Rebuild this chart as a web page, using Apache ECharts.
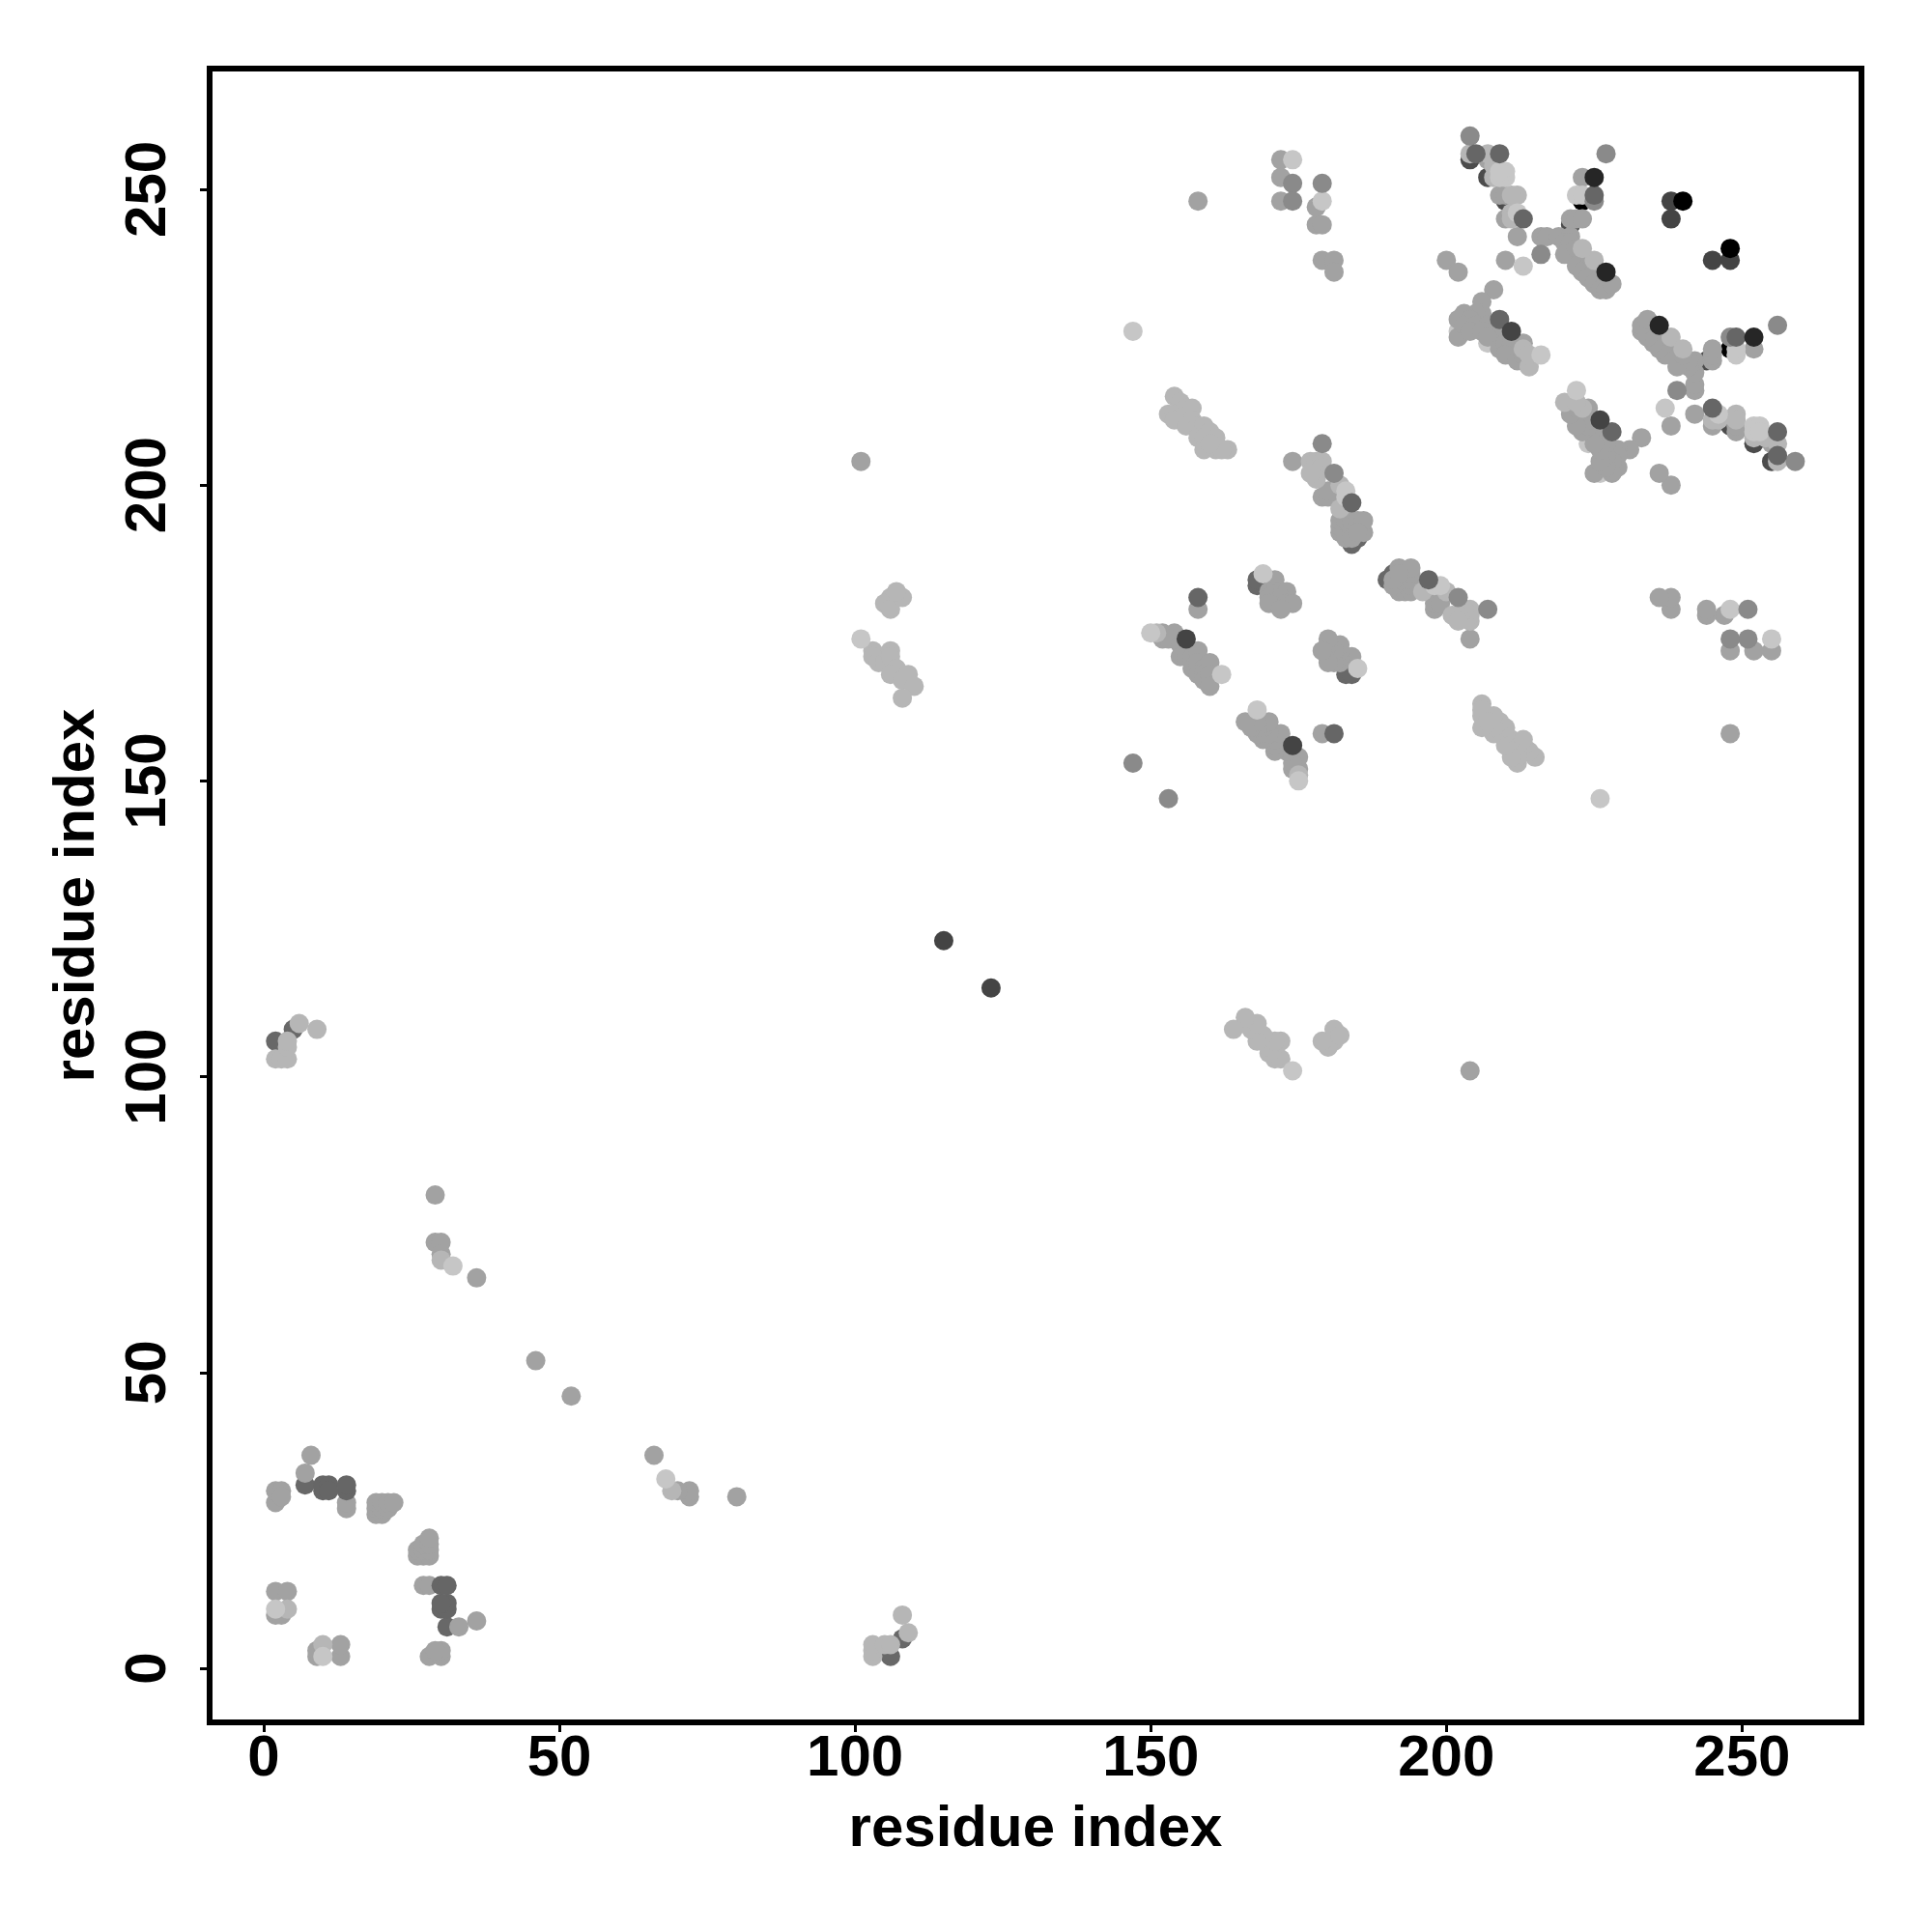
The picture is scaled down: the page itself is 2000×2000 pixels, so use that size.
<!DOCTYPE html>
<html>
<head>
<meta charset="utf-8">
<style>html,body{margin:0;padding:0;background:#fff}#c{width:2000px;height:2000px}</style>
<script src="https://cdn.jsdelivr.net/npm/echarts@6/dist/echarts.min.js"></script>
</head>
<body>
<div id="c"></div>
<script>
const tickValues = [0, 50, 100, 150, 200, 250];
const axisTitle = "residue index";

const blackLow = [[223,248],[248,223]];
const darkLow = [[204,255],[255,204],[207,252],[252,207],[210,248],[248,210],[221,244],[244,221]];
const slateLow = [[184,190],[190,184],[185,191],[191,185],[183,192],[192,183],[183,168],[168,183],[184,168],[168,184],[171,180],[180,171],[7,31],[31,7],[2,106],[106,2],[5,108],[108,5]];
const paleLow = [[202,226],[226,202],[207,224],[224,207]];
const midGrey = [
  [2,13],[13,2],[4,13],[13,4],[2,9],[9,2],[3,9],[9,3],[2,28],[28,2],[2,30],[30,2],[3,30],[30,3],[3,29],[29,3],
  [8,36],[36,8],[7,33],[33,7],[14,27],[27,14],[14,28],[28,14],
  [19,26],[26,19],[19,27],[27,19],[19,28],[28,19],[20,26],[26,20],[20,27],[27,20],[20,28],[28,20],[21,27],[27,21],[21,28],[28,21],[22,28],[28,22],
  [29,80],[80,29],[29,72],[72,29],[30,72],[72,30],[30,70],[70,30],[36,66],[66,36],[46,52],[52,46],
  [101,204],[204,101],[158,248],[248,158],[172,255],[255,172],[172,252],[252,172],[172,248],[248,172],[178,247],[247,178],[178,244],[244,178],[179,244],[244,179],
  [179,238],[238,179],[181,238],[238,181],[181,236],[236,181],[174,204],[204,174],[158,179],[179,158],
  [152,174],[174,152],[152,175],[175,152],[154,175],[175,154],[153,174],[174,153],[155,173],[173,155],[155,171],[171,155],[156,171],[171,156],[157,171],[171,157],[158,172],[172,158],[157,169],[169,157],[158,170],[170,158],[159,169],[169,159],[160,170],[170,160],[158,168],[168,158],[159,168],[168,159],[159,167],[167,159],[160,168],[168,160],[160,166],[166,160],
  [171,184],[184,171],[170,182],[182,170],[171,182],[182,171],[172,182],[182,172],[173,182],[182,173],[170,181],[181,170],[172,181],[181,172],[170,180],[180,170],[173,180],[180,173],[174,180],[180,174],[172,179],[179,172],
  [179,198],[198,179],[180,198],[198,180],[180,199],[199,180],
  [182,192],[192,182],[182,193],[193,182],[182,194],[194,182],[183,191],[191,183],[183,194],[194,183],[184,192],[192,184],[184,194],[194,184],[185,193],[193,185],[185,194],[194,185],[186,192],[192,186],[186,194],[194,186],[184,191],[191,184],[185,192],[192,185],
  [200,238],[238,200],[202,236],[236,202],[210,238],[238,210],
  [208,233],[233,208],[206,231],[231,206],[206,229],[229,206],[205,229],[229,205],[203,229],[229,203],[202,228],[228,202],[204,228],[228,204],[202,225],[225,202],[203,227],[227,203],[205,227],[227,205],[207,227],[227,207],[204,226],[226,204],[206,226],[226,206],[208,226],[226,208],[207,225],[225,207],[209,223],[223,209],[210,224],[224,210],[211,224],[224,211],[210,222],[222,210],[212,221],[221,212],[213,222],[222,213],[213,224],[224,213],
  [209,249],[249,209],[210,249],[249,210],[210,245],[245,210],[212,242],[242,212],[216,242],[242,216],[217,242],[242,217],[219,242],[242,219],[221,242],[242,221],[220,241],[241,220],[221,241],[241,221],[220,239],[239,220],[222,240],[240,222],[223,239],[239,223],[222,237],[237,222],[224,237],[237,224],[223,236],[236,223],[225,236],[236,225],[224,235],[235,224],[226,235],[235,226],[225,234],[234,225],[226,233],[233,226],[227,233],[233,227],[228,234],[234,228],
  [221,245],[245,221],[222,245],[245,222],[223,245],[245,223],[223,252],[252,223],[207,255],[255,207]
];
const lightGrey = [
  [2,103],[103,2],[3,103],[103,3],[4,103],[103,4],[4,105],[105,4],[4,106],[106,4],[6,109],[109,6],[9,108],[108,9],[4,10],[10,4],
  [30,69],[69,30],
  [103,172],[172,103],[103,171],[171,103],[104,170],[170,104],[105,170],[170,105],[106,172],[172,106],[106,171],[171,106],[107,169],[169,107],[106,168],[168,106],[108,167],[167,108],[109,168],[168,109],[110,166],[166,110],[108,164],[164,108],
  [106,181],[181,106],[105,180],[180,105],[106,179],[179,106],[108,181],[181,108],[107,182],[182,107],
  [154,215],[215,154],[155,214],[214,155],[156,213],[213,156],[155,212],[212,155],[153,212],[212,153],[154,212],[212,154],[156,212],[212,156],[157,213],[213,157],[157,211],[211,157],[154,211],[211,154],[156,210],[210,156],[158,210],[210,158],[159,210],[210,159],[158,208],[208,158],[160,209],[209,160],[161,208],[208,161],[159,208],[208,159],[159,206],[206,159],[161,206],[206,161],[163,206],[206,163],[162,206],[206,162],[160,207],[207,160],
  [151,175],[175,151],[177,204],[204,177],[178,204],[204,178],[179,204],[204,179],[179,203],[203,179],[178,202],[202,178],[178,201],[201,178],[177,202],[202,177],[182,196],[196,182],[182,200],[200,182],
  [214,220],[220,214],[213,223],[223,213],[222,214],[214,222],[208,254],[254,208],[212,249],[249,212],[211,249],[249,211],[211,246],[246,211],[211,245],[245,211],
  [225,238],[238,225],[223,240],[240,223],[207,256],[256,207],[204,256],[256,204],[208,252],[252,208]
];
const paleGrey = [
  [2,10],[10,2],[32,68],[68,32],[101,174],[174,101],[150,175],[175,150],[147,226],[226,147],[174,255],[255,174],[179,248],[248,179],[169,185],[185,169],[162,168],[168,162],
  [216,222],[222,216],[213,237],[237,213],[212,246],[246,212],[210,252],[252,210],[210,253],[253,210],[209,252],[252,209],[209,253],[253,209],[222,249],[249,222],[223,249],[249,223],
  [183,198],[198,183],[183,199],[199,183]
];
const dimGrey = [
  [174,251],[251,174],[179,251],[251,179],[174,248],[248,174],[147,153],[153,147],[227,256],[256,227],[204,259],[259,204],[216,239],[239,216],[181,202],[202,181],[179,207],[207,179],[225,248],[248,225]
];
const slateGrey = [
  [10,30],[30,10],[10,31],[31,10],[11,31],[31,11],[11,30],[30,11],[14,30],[30,14],[14,31],[31,14],
  [158,181],[181,158],[184,197],[197,184],[205,256],[256,205],[209,256],[256,209],[228,209],[209,228],[225,249],[249,225],[213,245],[245,213]
];
const darkGrey = [
  [115,123],[123,115],[156,174],[174,156],[211,226],[226,211],[238,248],[248,238],[238,245],[245,238]
];
const deepGrey = [[225,252],[252,225],[227,236],[236,227]];
const blackTop = [[240,248],[248,240]];

const layers = [
  [blackLow, '#000000'], [darkLow, '#4c4c4c'], [slateLow, '#686868'], [paleLow, '#c6c6c6'], [midGrey, '#a2a2a2'],
  [lightGrey, '#b6b6b6'], [paleGrey, '#c6c6c6'], [dimGrey, '#8a8a8a'], [slateGrey, '#666666'], [darkGrey, '#444444'],
  [deepGrey, '#262626'], [blackTop, '#000000']
];

const font = { fontFamily: 'Liberation Sans', fontWeight: 'bold', fontSize: 60, color: '#000' };
function axis(extra) {
  return Object.assign({
    type: 'value', name: axisTitle, nameLocation: 'middle',
    nameTextStyle: font,
    axisLine: { show: false, onZero: false }, splitLine: { show: false },
    axisTick: { show: true, length: 10, lineStyle: { color: '#000', width: 3 }, customValues: tickValues },
    axisLabel: Object.assign({ customValues: tickValues }, font)
  }, extra);
}
const chart = echarts.init(document.getElementById('c'), null, { width: 2000, height: 2000, renderer: 'canvas' });
chart.setOption({
  animation: false,
  backgroundColor: '#fff',
  grid: { show: true, left: 217, top: 71, width: 1710, height: 1712, borderColor: '#000', borderWidth: 6, backgroundColor: '#fff' },
  xAxis: axis({ min: -9.15, max: 270.2, nameGap: 81 }),
  yAxis: axis({ min: -9.14, max: 270.4, nameGap: 107, axisLabel: Object.assign({ customValues: tickValues, rotate: 90, margin: 33 }, font) }),
  series: layers.map(([pts, c]) => ({
    type: 'scatter', data: pts, symbol: 'circle', symbolSize: 20, silent: true,
    itemStyle: { color: c, opacity: 1 }
  }))
});
</script>
</body>
</html>
